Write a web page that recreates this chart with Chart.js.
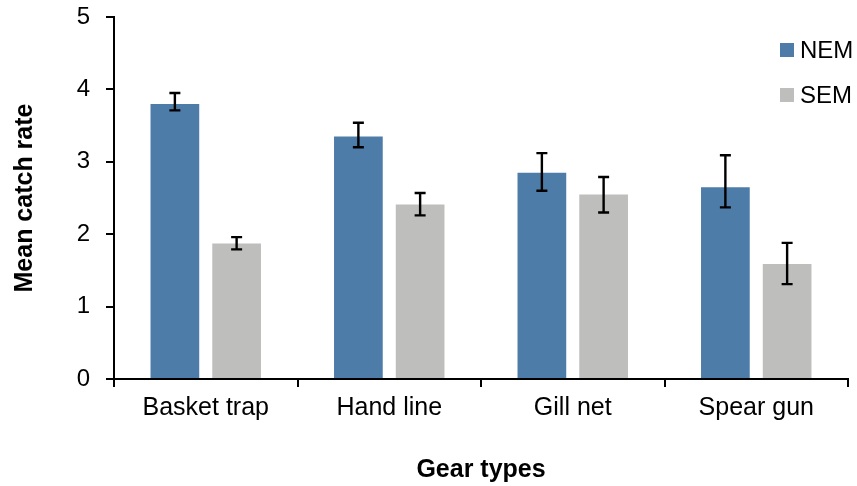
<!DOCTYPE html>
<html>
<head>
<meta charset="utf-8">
<title>Mean catch rate by gear type</title>
<script src="https://cdn.jsdelivr.net/npm/chart.js@4.4.1/dist/chart.umd.min.js"></script>
<style>
  html, body { margin: 0; padding: 0; background: #ffffff; }
  #wrap { width: 857px; height: 486px; }
</style>
</head>
<body>
<div id="wrap"><canvas id="chart" width="857" height="486"></canvas></div>
<script>
// Gear categories and mean catch rates per region
const gearTypes = ['Basket trap', 'Hand line', 'Gill net', 'Spear gun'];
const nemMeans = [3.80, 3.35, 2.85, 2.65];
const semMeans = [1.87, 2.41, 2.55, 1.59];
// Error bar ends (upper / lower)
const nemUpper = [3.95, 3.54, 3.12, 3.09];
const nemLower = [3.71, 3.20, 2.60, 2.37];
const semUpper = [1.96, 2.57, 2.79, 1.88];
const semLower = [1.79, 2.26, 2.30, 1.31];
const yTicks = [0, 1, 2, 3, 4, 5];

const FONT = '"Liberation Sans", Arial, sans-serif';
const NEM_COLOR = '#4e7ca8';
const SEM_COLOR = '#bebebd';

const errorBounds = [
  { upper: nemUpper, lower: nemLower },
  { upper: semUpper, lower: semLower }
];

// Whiskers drawn over each bar
const errorBarPlugin = {
  id: 'errorBars',
  afterDatasetsDraw(chart) {
    const ctx = chart.ctx;
    const y = chart.scales.y;
    ctx.save();
    ctx.strokeStyle = '#000000';
    ctx.lineWidth = 2.4;
    chart.data.datasets.forEach((ds, di) => {
      const meta = chart.getDatasetMeta(di);
      const b = errorBounds[di];
      meta.data.forEach((bar, i) => {
        const x = bar.x;
        const yHi = y.getPixelForValue(b.upper[i]);
        const yLo = y.getPixelForValue(b.lower[i]);
        ctx.beginPath();
        ctx.moveTo(x, yHi); ctx.lineTo(x, yLo);
        ctx.moveTo(x - 5.5, yHi); ctx.lineTo(x + 5.5, yHi);
        ctx.moveTo(x - 5.5, yLo); ctx.lineTo(x + 5.5, yLo);
        ctx.stroke();
      });
    });
    ctx.restore();
  }
};

// Legend placed inside the plot, top right
const insideLegendPlugin = {
  id: 'insideLegend',
  afterDraw(chart) {
    const ctx = chart.ctx;
    ctx.save();
    ctx.font = '24px ' + FONT;
    ctx.textBaseline = 'middle';
    ctx.textAlign = 'left';
    chart.data.datasets.forEach((ds, i) => {
      const cy = 50 + i * 45;
      ctx.fillStyle = ds.backgroundColor;
      ctx.fillRect(780, cy - 7, 14, 14);
      ctx.fillStyle = '#000000';
      ctx.fillText(ds.label, 800, cy + 1);
    });
    ctx.restore();
  }
};

new Chart(document.getElementById('chart'), {
  type: 'bar',
  data: {
    labels: gearTypes,
    datasets: [
      { label: 'NEM', data: nemMeans, backgroundColor: NEM_COLOR,
        categoryPercentage: 0.673, barPercentage: 0.789 },
      { label: 'SEM', data: semMeans, backgroundColor: SEM_COLOR,
        categoryPercentage: 0.673, barPercentage: 0.789 }
    ]
  },
  options: {
    responsive: false,
    animation: false,
    layout: { padding: { left: 0, right: 9, top: 17, bottom: 0 } },
    plugins: {
      legend: { display: false },
      tooltip: { enabled: false }
    },
    scales: {
      x: {
        afterFit(s) { s.height = 107; s.paddingLeft = 0; s.paddingRight = 0; },
        grid: { display: true, drawOnChartArea: false, drawTicks: true,
                tickLength: 8, color: '#000000', lineWidth: 2, offset: true },
        border: { display: true, color: '#000000', width: 2 },
        ticks: { color: '#000000', padding: 6, maxRotation: 0,
                 font: { family: FONT, size: 25 } },
        title: { display: true, text: 'Gear types', color: '#000000',
                 padding: { top: 0, bottom: 1 },
                 font: { family: FONT, size: 25, weight: 'bold' } }
      },
      y: {
        min: 0, max: 5,
        afterFit(s) { s.width = 114; s.paddingTop = 0; s.paddingBottom = 0; },
        afterBuildTicks(s) { s.ticks = yTicks.map(v => ({ value: v })); },
        grid: { display: true, drawOnChartArea: false, drawTicks: true,
                tickLength: 8, color: '#000000', lineWidth: 2 },
        border: { display: true, color: '#000000', width: 2 },
        ticks: { color: '#000000', padding: 16,
                 font: { family: FONT, size: 24 } },
        title: { display: true, text: 'Mean catch rate', color: '#000000',
                 padding: { top: 10, bottom: 0 },
                 font: { family: FONT, size: 25, weight: 'bold' } }
      }
    }
  },
  plugins: [errorBarPlugin, insideLegendPlugin]
});
</script>
</body>
</html>
